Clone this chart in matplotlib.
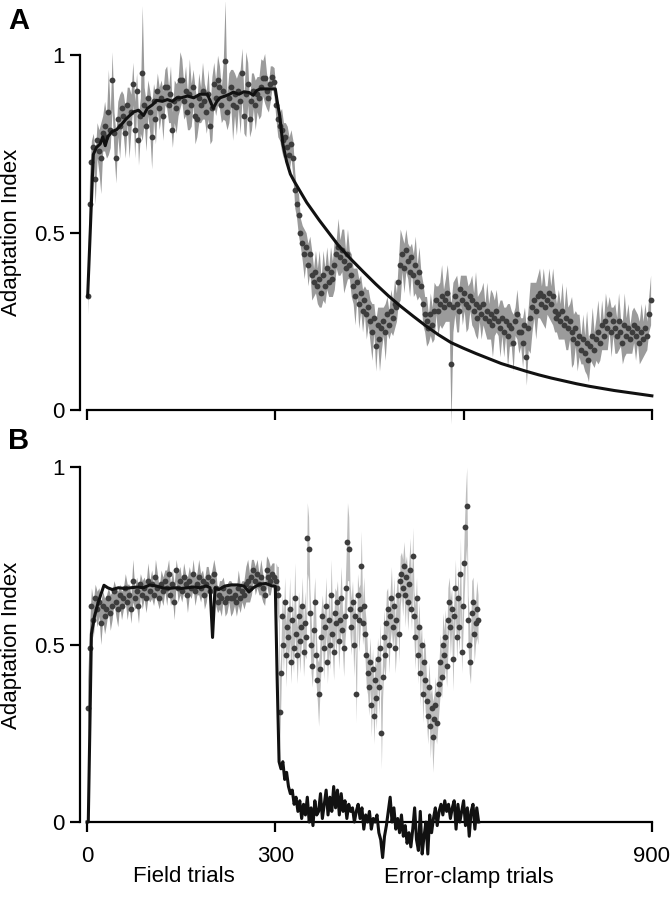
import numpy as np
import matplotlib
matplotlib.use("Agg")
import matplotlib.pyplot as plt

plt.rcParams["font.family"] = ["Liberation Sans", "DejaVu Sans"]

# ---------------- panel A : data ----------------
a_field_trials = np.arange(1, 300, 3)
a_field_mean = [
    0.32, 0.58, 0.70, 0.74, 0.65, 0.76, 0.73, 0.71, 0.78, 0.80,
    0.77, 0.84, 0.79, 0.93, 0.78, 0.71, 0.82, 0.80, 0.85, 0.83,
    0.78, 0.86, 0.81, 0.84, 0.92, 0.79, 0.90, 0.76, 0.83, 0.95,
    0.86, 0.80, 0.88, 0.84, 0.77, 0.87, 0.82, 0.90, 0.85, 0.88,
    0.83, 0.91, 0.91, 0.86, 0.89, 0.79, 0.87, 0.85, 0.88, 0.93,
    0.93, 0.87, 0.90, 0.84, 0.89, 0.86, 0.91, 0.83, 0.82, 0.88,
    0.86, 0.90, 0.87, 0.84, 0.89, 0.80, 0.85, 0.92, 0.88, 0.93,
    0.91, 0.86, 0.90, 0.985, 0.84, 0.88, 0.91, 0.86, 0.89, 0.855,
    0.90, 0.87, 0.95, 0.83, 0.89, 0.92, 0.82, 0.87, 0.90, 0.86,
    0.89, 0.88, 0.91, 0.935, 0.935, 0.90, 0.88, 0.92, 0.94, 0.925,
]
a_field_sem = [
    0.05, 0.08, 0.06, 0.04, 0.07, 0.05, 0.06, 0.10, 0.05, 0.07,
    0.06, 0.12, 0.05, 0.08, 0.06, 0.07, 0.05, 0.09, 0.05, 0.06,
    0.07, 0.05, 0.10, 0.05, 0.06, 0.08, 0.05, 0.07, 0.05, 0.19,
    0.05, 0.07, 0.05, 0.06, 0.09, 0.05, 0.07, 0.05, 0.06, 0.05,
    0.07, 0.05, 0.06, 0.05, 0.08, 0.05, 0.06, 0.07, 0.05, 0.08,
    0.06, 0.05, 0.07, 0.05, 0.10, 0.06, 0.05, 0.08, 0.05, 0.07,
    0.05, 0.08, 0.05, 0.06, 0.07, 0.05, 0.09, 0.06, 0.05, 0.07,
    0.06, 0.05, 0.08, 0.17, 0.05, 0.07, 0.05, 0.10, 0.06, 0.08,
    0.05, 0.09, 0.07, 0.05, 0.12, 0.06, 0.05, 0.08, 0.05, 0.07,
    0.05, 0.06, 0.08, 0.05, 0.07, 0.05, 0.04, 0.05, 0.03, 0.04,
]

a_clamp_trials = np.arange(301, 900, 3)
a_clamp_mean = [
    0.86, 0.82, 0.80, 0.79, 0.76, 0.77, 0.74, 0.72, 0.75, 0.71,
    0.62, 0.58, 0.55, 0.50, 0.47, 0.44, 0.46, 0.41, 0.44, 0.38,
    0.36, 0.39, 0.35, 0.37, 0.33, 0.38, 0.35, 0.40, 0.36, 0.39,
    0.37, 0.41, 0.44, 0.46, 0.43, 0.45, 0.42, 0.40, 0.44, 0.41,
    0.38, 0.35, 0.32, 0.36, 0.30, 0.33, 0.28, 0.31, 0.27, 0.29,
    0.25, 0.22, 0.26, 0.18, 0.24, 0.20, 0.23, 0.25, 0.22, 0.27,
    0.24, 0.28, 0.26, 0.30, 0.29, 0.36, 0.41, 0.44, 0.40, 0.45,
    0.42, 0.39, 0.43, 0.38, 0.41, 0.36, 0.39, 0.35, 0.30, 0.27,
    0.25, 0.23, 0.27, 0.24, 0.28, 0.31, 0.28, 0.30, 0.32, 0.29,
    0.31, 0.33, 0.30, 0.13, 0.29, 0.32, 0.30, 0.28, 0.34, 0.31,
    0.33, 0.30, 0.29, 0.32, 0.31, 0.28, 0.30, 0.26, 0.29, 0.27,
    0.30, 0.26, 0.28, 0.25, 0.27, 0.24, 0.26, 0.28, 0.25, 0.23,
    0.26, 0.22, 0.25, 0.21, 0.24, 0.23, 0.19, 0.25, 0.27, 0.22,
    0.22, 0.19, 0.24, 0.15, 0.23, 0.26, 0.29, 0.31, 0.28, 0.32,
    0.33, 0.30, 0.32, 0.29, 0.31, 0.33, 0.30, 0.32, 0.28, 0.26,
    0.27, 0.25, 0.28, 0.24, 0.26, 0.23, 0.25, 0.22, 0.20, 0.23,
    0.19, 0.21, 0.17, 0.20, 0.16, 0.19, 0.14, 0.18, 0.21, 0.17,
    0.20, 0.22, 0.19, 0.24, 0.21, 0.25, 0.23, 0.27, 0.22, 0.25,
    0.23, 0.21, 0.25, 0.22, 0.19, 0.24, 0.21, 0.23, 0.20, 0.22,
    0.24, 0.21, 0.23, 0.19, 0.22, 0.20, 0.23, 0.21, 0.27, 0.31,
]
a_clamp_sem = [
    0.04, 0.05, 0.04, 0.06, 0.05, 0.04, 0.06, 0.05, 0.04, 0.05,
    0.05, 0.04, 0.06, 0.04, 0.05, 0.07, 0.04, 0.06, 0.05, 0.07,
    0.04, 0.06, 0.05, 0.08, 0.04, 0.07, 0.05, 0.06, 0.04, 0.07,
    0.05, 0.07, 0.04, 0.08, 0.05, 0.06, 0.09, 0.05, 0.07, 0.04,
    0.06, 0.05, 0.08, 0.04, 0.07, 0.05, 0.06, 0.04, 0.07, 0.05,
    0.06, 0.08, 0.04, 0.07, 0.05, 0.09, 0.06, 0.04, 0.08, 0.05,
    0.04, 0.06, 0.05, 0.07, 0.04, 0.06, 0.10, 0.05, 0.07, 0.06,
    0.05, 0.07, 0.04, 0.06, 0.08, 0.05, 0.07, 0.04, 0.06, 0.05,
    0.07, 0.04, 0.06, 0.05, 0.08, 0.04, 0.07, 0.06, 0.09, 0.05,
    0.06, 0.08, 0.05, 0.17, 0.07, 0.05, 0.08, 0.06, 0.04, 0.07,
    0.05, 0.08, 0.06, 0.04, 0.07, 0.05, 0.09, 0.06, 0.04, 0.07,
    0.06, 0.04, 0.08, 0.05, 0.07, 0.09, 0.05, 0.06, 0.04, 0.08,
    0.05, 0.07, 0.04, 0.09, 0.06, 0.05, 0.08, 0.04, 0.07, 0.06,
    0.04, 0.07, 0.05, 0.08, 0.06, 0.10, 0.07, 0.05, 0.08, 0.06,
    0.07, 0.05, 0.08, 0.06, 0.04, 0.07, 0.05, 0.08, 0.06, 0.04,
    0.07, 0.05, 0.08, 0.04, 0.09, 0.06, 0.05, 0.10, 0.07, 0.05,
    0.08, 0.06, 0.04, 0.07, 0.05, 0.09, 0.06, 0.04, 0.08, 0.05,
    0.06, 0.09, 0.05, 0.07, 0.04, 0.08, 0.06, 0.05, 0.07, 0.04,
    0.07, 0.05, 0.08, 0.04, 0.06, 0.09, 0.05, 0.07, 0.04, 0.06,
    0.05, 0.07, 0.04, 0.06, 0.08, 0.05, 0.07, 0.04, 0.05, 0.07,
]

a_model_trials = [
    1, 10, 15, 21, 25, 29, 33, 40, 47, 55, 62, 68, 74, 82, 90, 96, 104,
    111, 120, 128, 136, 143, 150, 160, 170, 180, 192, 201, 207, 212, 220,
    227, 233, 242, 250, 258, 265, 270, 276, 285, 293, 300,
    303, 307, 312, 318, 324, 330, 340, 350, 360, 370, 385, 400, 420, 440,
    460, 480, 500, 520, 540, 560, 580, 600, 620, 640, 660, 680, 700, 720,
    740, 760, 780, 800, 820, 840, 860, 880, 900,
]
a_model_value = [
    0.32, 0.72, 0.74, 0.75, 0.77, 0.745, 0.77, 0.785, 0.79, 0.805, 0.82,
    0.83, 0.84, 0.845, 0.83, 0.85, 0.86, 0.873, 0.87, 0.875, 0.87, 0.88,
    0.88, 0.885, 0.88, 0.89, 0.89, 0.85, 0.87, 0.88, 0.885, 0.89, 0.896,
    0.89, 0.897, 0.895, 0.887, 0.90, 0.905, 0.905, 0.905, 0.905,
    0.87, 0.83, 0.75, 0.70, 0.665, 0.645, 0.615, 0.585, 0.56, 0.535, 0.50,
    0.465, 0.426, 0.39, 0.355, 0.322, 0.292, 0.264, 0.237, 0.212, 0.19,
    0.174, 0.159, 0.145, 0.131, 0.12, 0.109, 0.099, 0.09, 0.082, 0.074,
    0.067, 0.061, 0.055, 0.05, 0.045, 0.04,
]

# ---------------- panel B : data ----------------
b_field_trials = np.arange(1, 300, 3)
b_field_mean = [
    0.32, 0.49, 0.61, 0.57, 0.63, 0.60, 0.62, 0.56, 0.61, 0.58,
    0.60, 0.63, 0.59, 0.61, 0.65, 0.62, 0.60, 0.64, 0.61, 0.63,
    0.66, 0.62, 0.64, 0.60, 0.68, 0.63, 0.65, 0.61, 0.67, 0.64,
    0.66, 0.63, 0.68, 0.65, 0.67, 0.64, 0.69, 0.66, 0.63, 0.67,
    0.65, 0.68, 0.66, 0.70, 0.64, 0.67, 0.62, 0.71, 0.66, 0.68,
    0.65, 0.69, 0.67, 0.64, 0.68, 0.66, 0.70, 0.65, 0.67, 0.69,
    0.66, 0.68, 0.64, 0.67, 0.69, 0.65, 0.68, 0.70, 0.66, 0.62,
    0.64, 0.63, 0.66, 0.62, 0.63, 0.65, 0.63, 0.63, 0.64, 0.62,
    0.66, 0.63, 0.65, 0.64, 0.67, 0.68, 0.66, 0.69, 0.71, 0.68,
    0.70, 0.67, 0.69, 0.66, 0.64, 0.71, 0.69, 0.68, 0.70, 0.69,
]
b_field_sem = [
    0.08, 0.06, 0.05, 0.05, 0.04, 0.05, 0.04, 0.06, 0.04, 0.05,
    0.04, 0.03, 0.05, 0.04, 0.03, 0.04, 0.05, 0.03, 0.04, 0.03,
    0.04, 0.05, 0.03, 0.04, 0.06, 0.03, 0.04, 0.05, 0.03, 0.04,
    0.03, 0.04, 0.05, 0.03, 0.04, 0.03, 0.05, 0.04, 0.03, 0.04,
    0.04, 0.03, 0.05, 0.04, 0.03, 0.04, 0.05, 0.03, 0.04, 0.04,
    0.03, 0.04, 0.03, 0.05, 0.04, 0.03, 0.04, 0.04, 0.03, 0.05,
    0.04, 0.03, 0.04, 0.05, 0.03, 0.04, 0.03, 0.04, 0.05, 0.03,
    0.04, 0.05, 0.03, 0.04, 0.04, 0.03, 0.05, 0.04, 0.03, 0.04,
    0.05, 0.04, 0.03, 0.04, 0.05, 0.06, 0.04, 0.05, 0.03, 0.04,
    0.04, 0.03, 0.05, 0.04, 0.03, 0.04, 0.05, 0.04, 0.03, 0.04,
]

b_clamp_trials = np.arange(301, 624, 2)
b_clamp_mean = [
    0.68, 0.66, 0.64, 0.31, 0.42, 0.58, 0.50, 0.62, 0.47, 0.55,
    0.52, 0.60, 0.45, 0.57, 0.49, 0.63, 0.53, 0.47, 0.58, 0.51,
    0.55, 0.61, 0.48, 0.56, 0.52, 0.80, 0.77, 0.59, 0.50, 0.44,
    0.54, 0.62, 0.47, 0.40, 0.36, 0.43, 0.52, 0.58, 0.49, 0.55,
    0.61, 0.45, 0.57, 0.50, 0.64, 0.53, 0.48, 0.59, 0.56, 0.62,
    0.51, 0.57, 0.63, 0.54, 0.49, 0.58, 0.66, 0.79, 0.77, 0.60,
    0.55, 0.62, 0.50, 0.58, 0.36, 0.64, 0.57, 0.60, 0.72, 0.56,
    0.61, 0.53, 0.47, 0.42, 0.38, 0.45, 0.33, 0.43, 0.30, 0.40,
    0.35, 0.46, 0.38, 0.49, 0.25, 0.41, 0.52, 0.47, 0.56, 0.60,
    0.50, 0.58, 0.63, 0.55, 0.61, 0.49, 0.57, 0.64, 0.53, 0.68,
    0.70, 0.66, 0.72, 0.64, 0.69, 0.62, 0.67, 0.71, 0.60, 0.75,
    0.58, 0.52, 0.63, 0.47, 0.55, 0.42, 0.50, 0.36, 0.45, 0.40,
    0.34, 0.30, 0.38, 0.27, 0.32, 0.24, 0.29, 0.33, 0.28, 0.36,
    0.39, 0.45, 0.41, 0.50, 0.47, 0.52, 0.44, 0.57, 0.62, 0.55,
    0.60, 0.46, 0.58, 0.66, 0.52, 0.63, 0.55, 0.70, 0.48, 0.61,
    0.73, 0.83, 0.89, 0.57, 0.50, 0.45, 0.59, 0.62, 0.53, 0.56,
    0.60, 0.57,
]
b_clamp_sem = [
    0.05, 0.06, 0.08, 0.10, 0.07, 0.06, 0.08, 0.07, 0.09, 0.06,
    0.07, 0.09, 0.06, 0.08, 0.07, 0.10, 0.06, 0.08, 0.07, 0.09,
    0.06, 0.08, 0.07, 0.09, 0.06, 0.10, 0.09, 0.07, 0.08, 0.06,
    0.09, 0.07, 0.08, 0.06, 0.09, 0.07, 0.08, 0.06, 0.09, 0.07,
    0.08, 0.06, 0.09, 0.07, 0.10, 0.06, 0.08, 0.07, 0.09, 0.06,
    0.08, 0.07, 0.09, 0.06, 0.08, 0.07, 0.10, 0.11, 0.09, 0.07,
    0.08, 0.06, 0.09, 0.07, 0.08, 0.06, 0.09, 0.07, 0.10, 0.06,
    0.08, 0.07, 0.09, 0.06, 0.08, 0.07, 0.09, 0.06, 0.08, 0.07,
    0.09, 0.06, 0.08, 0.07, 0.10, 0.06, 0.08, 0.07, 0.09, 0.06,
    0.08, 0.07, 0.09, 0.06, 0.08, 0.07, 0.09, 0.06, 0.08, 0.07,
    0.06, 0.08, 0.07, 0.09, 0.06, 0.08, 0.07, 0.09, 0.06, 0.08,
    0.07, 0.09, 0.06, 0.08, 0.07, 0.09, 0.06, 0.08, 0.07, 0.09,
    0.06, 0.08, 0.07, 0.09, 0.06, 0.10, 0.07, 0.08, 0.06, 0.09,
    0.07, 0.08, 0.06, 0.09, 0.07, 0.08, 0.06, 0.09, 0.07, 0.08,
    0.06, 0.09, 0.07, 0.08, 0.06, 0.09, 0.07, 0.10, 0.06, 0.08,
    0.09, 0.10, 0.11, 0.07, 0.08, 0.06, 0.09, 0.07, 0.08, 0.06,
    0.08, 0.07,
]

b_model_field_trials = [
    0, 2, 7, 12, 18, 27, 33, 40, 50, 60, 70, 80, 90, 100, 110, 120, 130,
    140, 150, 160, 170, 180, 190, 196, 200, 204, 210, 220, 230, 240, 250,
    258, 265, 275, 285, 295, 300, 303, 306,
]
b_model_field_value = [
    0.0, 0.0, 0.53, 0.58, 0.62, 0.667, 0.66, 0.655, 0.66, 0.658, 0.66,
    0.662, 0.66, 0.668, 0.665, 0.66, 0.658, 0.66, 0.658, 0.66, 0.662,
    0.66, 0.665, 0.66, 0.52, 0.66, 0.655, 0.665, 0.668, 0.668, 0.665,
    0.648, 0.66, 0.67, 0.672, 0.665, 0.665, 0.40, 0.17,
]
b_model_clamp_trials = np.arange(309, 625, 3)
b_model_clamp_value = [
    0.15, 0.17, 0.12, 0.14, 0.10, 0.08, 0.09, 0.05, 0.07, 0.03,
    0.06, 0.01, 0.05, 0.02, 0.07, 0.00, 0.04, -0.01, 0.06, 0.02,
    0.03, 0.08, 0.01, 0.05, 0.09, 0.02, 0.07, 0.03, 0.10, 0.04,
    0.09, 0.02, 0.08, 0.03, 0.06, 0.01, 0.05, 0.03, 0.04, 0.00,
    0.03, 0.05, 0.01, 0.04, -0.02, 0.02, 0.00, 0.03, -0.02, 0.01,
    0.00, 0.02, -0.03, -0.05, -0.10, -0.04, -0.01, 0.03, 0.07, 0.00,
    0.04, -0.02, 0.01, -0.03, 0.02, -0.04, -0.01, -0.06, -0.03, -0.07,
    -0.02, 0.04, -0.05, -0.08, 0.03, -0.09, -0.04, 0.00, -0.09, 0.02,
    -0.03, 0.01, 0.04, -0.01, 0.03, 0.05, 0.02, 0.06, 0.03, 0.05,
    0.01, 0.04, 0.06, -0.02, 0.05, 0.00, 0.03, 0.06, -0.01, 0.04,
    -0.04, 0.03, 0.05, -0.02, 0.04, 0.00,
]

DOT = "#3d3d3d"
BAND = "#9b9b9b"
BAND_LIGHT = "#bdbdbd"


def style_axes(ax, xticks, xlabels, ylim):
    ax.set_xlim(-11.2, 905)
    ax.set_ylim(*ylim)
    for side in ("top", "right"):
        ax.spines[side].set_visible(False)
    ax.spines["left"].set_bounds(0, 1)
    ax.spines["bottom"].set_position(("data", 0))
    ax.spines["bottom"].set_bounds(0, 900)
    for side in ("left", "bottom"):
        ax.spines[side].set_linewidth(1.6)
    ax.set_yticks([0, 0.5, 1])
    ax.set_yticklabels(["0", "0.5", "1"])
    ax.set_xticks(xticks)
    ax.set_xticklabels(xlabels)
    ax.tick_params(direction="out", length=7, width=1.6, labelsize=16)
    ax.tick_params(axis="y", pad=4)
    ax.tick_params(axis="x", pad=10)


def draw_band(ax, x, mean, sem, color):
    mean = np.array(mean)
    sem = np.array(sem)
    ax.fill_between(x, mean - sem, mean + sem, color=color, lw=0, zorder=1)


fig = plt.figure(figsize=(6.7, 8.99), dpi=100)

# panel A
ax_a = fig.add_axes([80 / 670, 1 - 431.3 / 899, 575 / 670, 429.3 / 899])
a_trials = np.concatenate([a_field_trials, a_clamp_trials])
a_mean = a_field_mean + a_clamp_mean
a_sem = a_field_sem + a_clamp_sem
draw_band(ax_a, a_trials, a_mean, a_sem, BAND)
ax_a.plot(a_trials, a_mean, "o", ms=4.2, color=DOT, mec="none", zorder=2)
ax_a.plot(a_model_trials, a_model_value, color="#111111", lw=2.2, zorder=3)
style_axes(ax_a, [0, 300, 600, 900], ["", "", "", ""], (-0.06, 1.15))

# panel B
ax_b = fig.add_axes([80 / 670, 1 - 868.2 / 899, 575 / 670, 418.9 / 899])
draw_band(ax_b, b_field_trials, b_field_mean, b_field_sem, BAND)
draw_band(ax_b, b_clamp_trials, b_clamp_mean, b_clamp_sem, BAND_LIGHT)
ax_b.plot(b_field_trials, b_field_mean, "o", ms=4.2, color=DOT, mec="none", zorder=2)
ax_b.plot(b_clamp_trials, b_clamp_mean, "o", ms=4.2, color=DOT, mec="none", zorder=2)
b_model_trials = list(b_model_field_trials) + list(b_model_clamp_trials)
b_model_value = b_model_field_value + b_model_clamp_value
ax_b.plot(b_model_trials, b_model_value, color="#111111", lw=2.2, zorder=3)
style_axes(ax_b, [0, 300, 900], ["0", "300", "900"], (-0.13, 1.05))

# labels
fig.text(12 / 670, 1 - 232 / 899, "Adaptation Index", rotation=90,
         ha="center", va="center", fontsize=16)
fig.text(12 / 670, 1 - 645 / 899, "Adaptation Index", rotation=90,
         ha="center", va="center", fontsize=16)
fig.text(8 / 670, 1 - 29 / 899, "A", fontsize=21, fontweight="bold")
fig.text(8 / 670, 1 - 449 / 899, "B", fontsize=21, fontweight="bold")
fig.text(184 / 670, 1 - 877 / 899, "Field trials", ha="center", va="center",
         fontsize=16)
fig.text(469 / 670, 1 - 877 / 899, "Error-clamp trials", ha="center",
         va="center", fontsize=16)

fig.savefig("out.png", dpi=100)
